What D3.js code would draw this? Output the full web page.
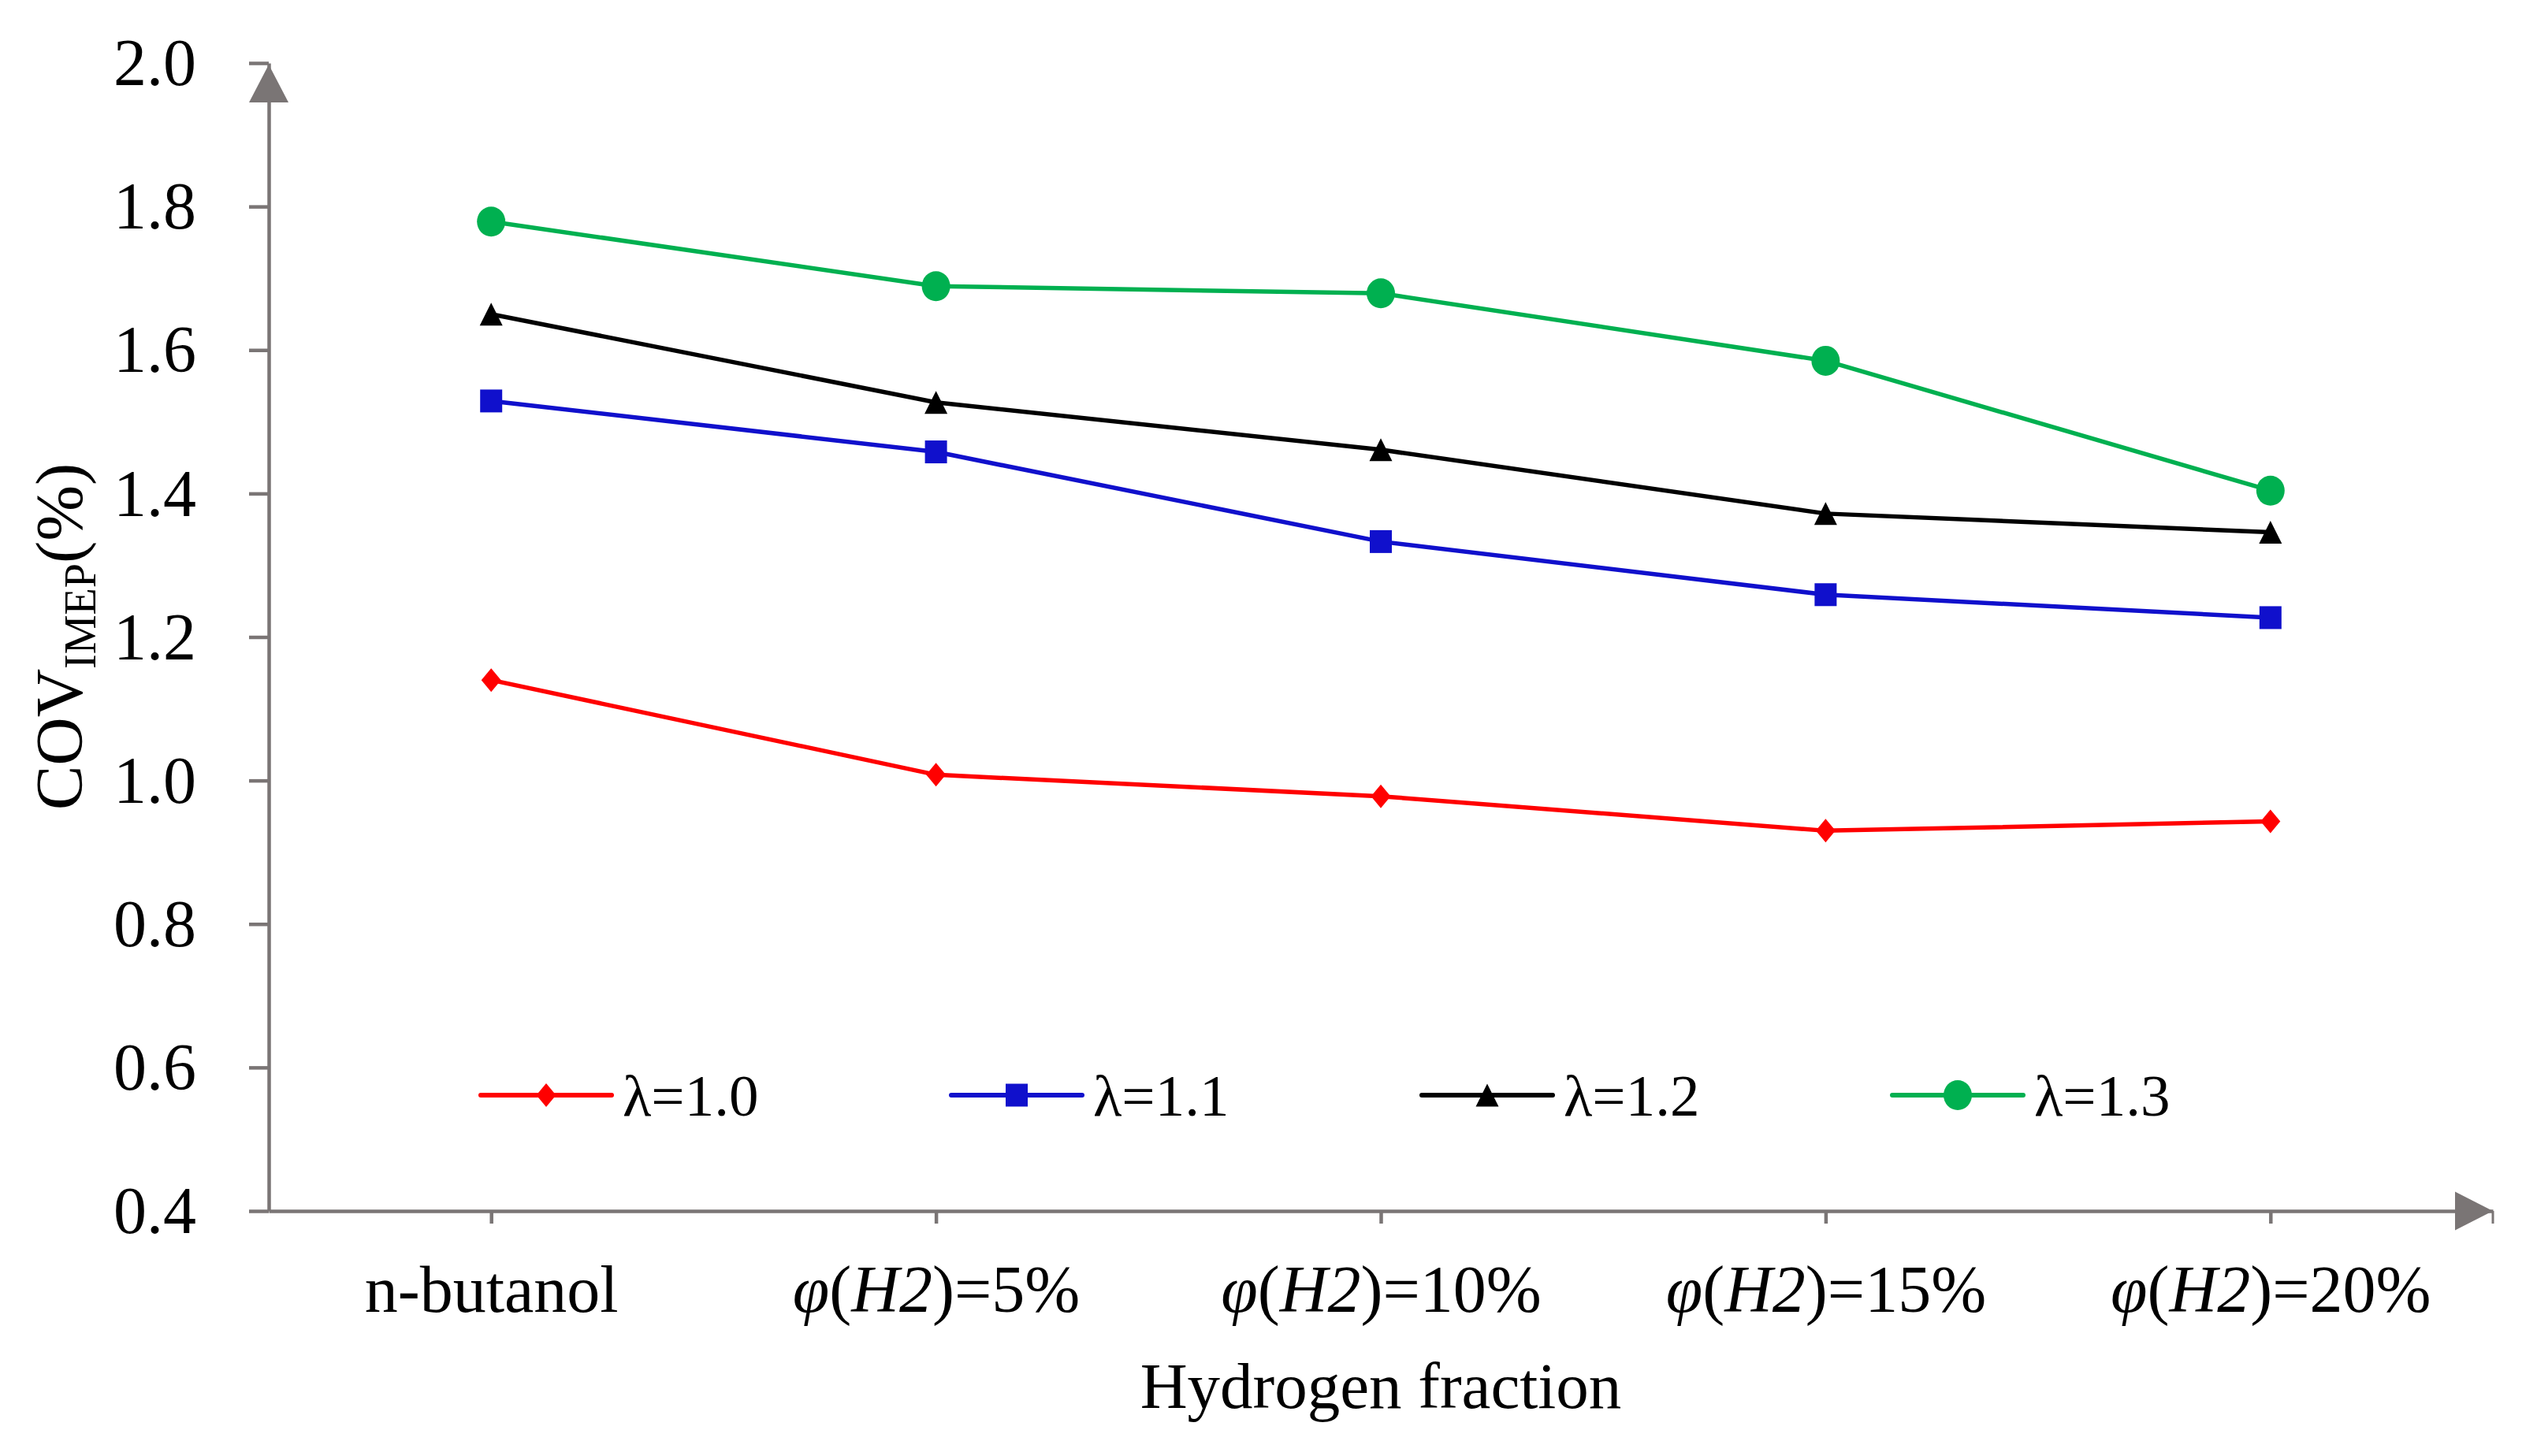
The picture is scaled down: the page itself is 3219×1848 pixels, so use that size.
<!DOCTYPE html>
<html>
<head>
<meta charset="utf-8">
<script src="https://cdn.jsdelivr.net/npm/d3@7"></script>
<style>
  html, body { margin: 0; padding: 0; background: #fff; }
  svg { display: block; }
  text { font-family: "Liberation Serif", "Times New Roman", serif; fill: #000; }
</style>
</head>
<body>
<div id="chart"></div>
<script>
// values
const categories = ['n-butanol', 'φ(H2)=5%', 'φ(H2)=10%', 'φ(H2)=15%', 'φ(H2)=20%'];
const lambda10 = [1.140, 1.008, 0.978, 0.930, 0.943];
const lambda11 = [1.529, 1.458, 1.333, 1.259, 1.227];
const lambda12 = [1.650, 1.527, 1.461, 1.372, 1.346];
const lambda13 = [1.779, 1.689, 1.679, 1.585, 1.404];
const seriesNames = ['λ=1.0', 'λ=1.1', 'λ=1.2', 'λ=1.3'];
const yTicks = [0.4, 0.6, 0.8, 1.0, 1.2, 1.4, 1.6, 1.8, 2.0];

const width = 3219;
const height = 1848;
const AXIS = '#7a7575';
const AXIS_W = 4.5;

const series = [
  { name: seriesNames[0], values: lambda10, color: '#ff0000', marker: 'diamond' },
  { name: seriesNames[1], values: lambda11, color: '#1010cc', marker: 'square' },
  { name: seriesNames[2], values: lambda12, color: '#000000', marker: 'triangle' },
  { name: seriesNames[3], values: lambda13, color: '#00b050', marker: 'circle' }
];

const x = d3.scalePoint().domain(categories).range([341, 3163]).padding(0.5);
const y = d3.scaleLinear().domain([0.4, 2.0]).range([1537, 80]);

const svg = d3.select('#chart')
  .append('svg')
  .attr('width', width)
  .attr('height', height)
  .attr('viewBox', `0 0 ${width} ${height}`);

// marker shapes, centred on 0,0
const markerPath = function (type) {
  switch (type) {
    case 'diamond':
      return 'M0,-15L12.5,0L0,15L-12.5,0Z';
    case 'square':
      return 'M-14,-14.5H14V14.5H-14Z';
    case 'triangle':
      return 'M0,-14.5L14.5,14.5H-14.5Z';
    default:
      return 'M-18,0A18,19 0 1,0 18,0A18,19 0 1,0 -18,0Z';
  }
};

// x axis
const gx = svg.append('g')
  .attr('transform', `translate(0,${y(0.4)})`)
  .call(d3.axisBottom(x).tickSize(16).tickSizeOuter(0));

gx.select('.domain').attr('stroke', AXIS).attr('stroke-width', AXIS_W);
gx.selectAll('.tick line').attr('stroke', AXIS).attr('stroke-width', AXIS_W);
gx.selectAll('.tick text')
  .attr('y', 128)
  .attr('dy', null)
  .attr('font-size', 84)
  .each(function (d) {
    const t = d3.select(this);
    const m = d.match(/^φ\(H2\)(.*)$/);
    if (!m) return;
    t.text(null);
    t.append('tspan').attr('font-style', 'italic').text('φ');
    t.append('tspan').text('(');
    t.append('tspan').attr('font-style', 'italic').text('H2');
    t.append('tspan').text(')' + m[1]);
  });

// small tick at the end of the x axis
gx.append('line')
  .attr('x1', x.range()[1]).attr('x2', x.range()[1])
  .attr('y1', 0).attr('y2', 16)
  .attr('stroke', AXIS).attr('stroke-width', 3);

// y axis
const gy = svg.append('g')
  .attr('transform', `translate(${x.range()[0]},0)`)
  .call(d3.axisLeft(y)
    .tickValues(yTicks)
    .tickSize(25)
    .tickPadding(67)
    .tickSizeOuter(0)
    .tickFormat(d3.format('.1f')));

gy.select('.domain').attr('stroke', AXIS).attr('stroke-width', AXIS_W);
gy.selectAll('.tick line').attr('stroke', AXIS).attr('stroke-width', AXIS_W);
gy.selectAll('.tick text').attr('font-size', 84).attr('dy', '0.33em');

// arrow heads
const ax0 = x.range()[0];
const ax1 = x.range()[1];
const ay0 = y.range()[0];
const ay1 = y.range()[1];
svg.append('path')
  .attr('d', `M${ax0},${ay1 + 2}L${ax0 + 25},${ay1 + 50}H${ax0 - 25}Z`)
  .attr('fill', AXIS);
svg.append('path')
  .attr('d', `M${ax1},${ay0}L${ax1 - 48},${ay0 - 24.5}V${ay0 + 24.5}Z`)
  .attr('fill', AXIS);

// series
const line = d3.line()
  .x((d, i) => x(categories[i]))
  .y(d => y(d));

series.forEach(s => {
  const g = svg.append('g');
  g.append('path')
    .attr('d', line(s.values))
    .attr('fill', 'none')
    .attr('stroke', s.color)
    .attr('stroke-width', 5.5)
    .attr('stroke-linejoin', 'round');
  g.selectAll('path.mark')
    .data(s.values)
    .enter()
    .append('path')
    .attr('class', 'mark')
    .attr('d', markerPath(s.marker))
    .attr('transform', (d, i) => `translate(${x(categories[i])},${y(d)})`)
    .attr('fill', s.color);
});

// y title
const yTitle = svg.append('text')
  .attr('transform', 'translate(104,808) rotate(-90)')
  .attr('text-anchor', 'middle')
  .attr('font-size', 85);
yTitle.append('tspan').text('COV');
yTitle.append('tspan').attr('font-size', 56).attr('dy', 17).text('IMEP');
yTitle.append('tspan').attr('dy', -17).text('(%)');

// x title
svg.append('text')
  .attr('x', x(categories[2]))
  .attr('y', 1787)
  .attr('text-anchor', 'middle')
  .attr('font-size', 83)
  .text('Hydrogen fraction');

// legend
const legendX0 = 610;
const legendStep = 597;
const legendY = 1390;
const legend = svg.append('g');
series.forEach((s, i) => {
  const lx = legendX0 + i * legendStep;
  legend.append('line')
    .attr('x1', lx).attr('x2', lx + 166)
    .attr('y1', legendY).attr('y2', legendY)
    .attr('stroke', s.color)
    .attr('stroke-width', 6)
    .attr('stroke-linecap', 'round');
  legend.append('path')
    .attr('d', markerPath(s.marker))
    .attr('transform', `translate(${lx + 83},${legendY})`)
    .attr('fill', s.color);
  legend.append('text')
    .attr('x', lx + 180)
    .attr('y', legendY + 26)
    .attr('font-size', 75)
    .text(s.name);
});
</script>
</body>
</html>
